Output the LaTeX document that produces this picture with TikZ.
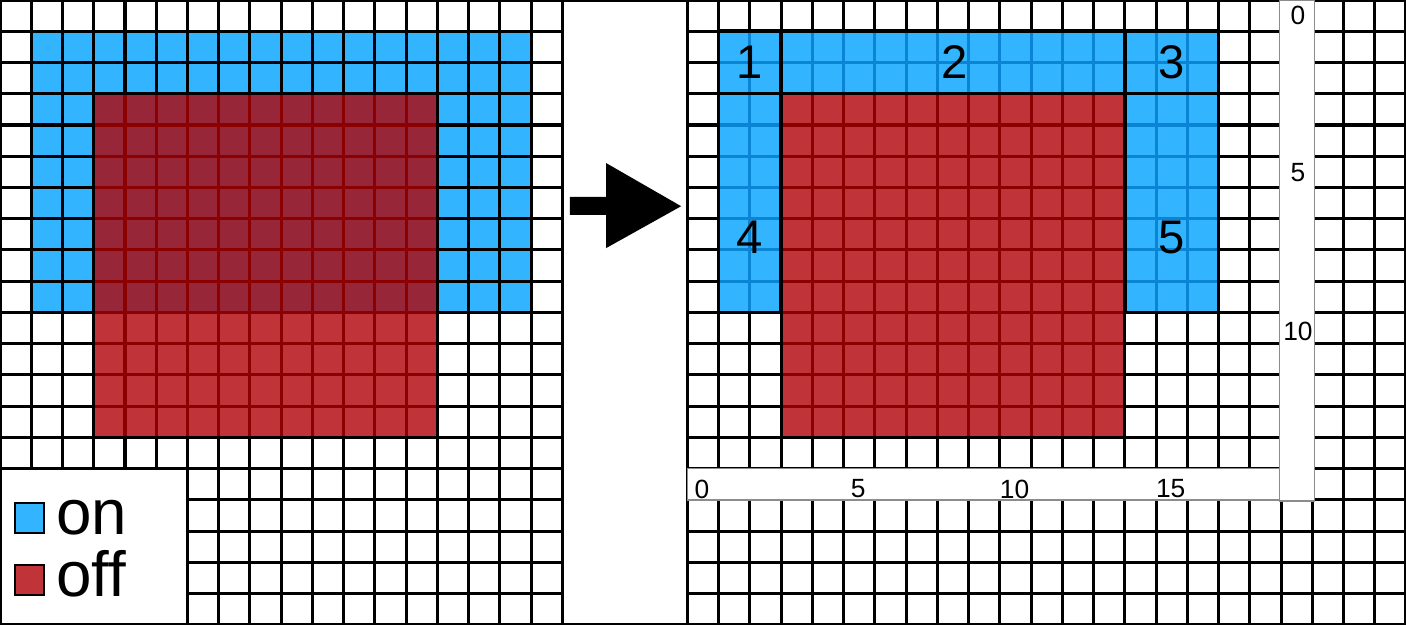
\documentclass[tikz,border=0pt]{standalone}
\usepackage{fontspec}
\setmainfont{Liberation Sans}
\definecolor{onblue}{HTML}{33B4FF}
\definecolor{online}{HTML}{0A84D4}
\definecolor{offred}{HTML}{C03338}
\definecolor{offdark}{HTML}{962638}
\definecolor{offline}{HTML}{8B0000}
\begin{document}
\begin{tikzpicture}[x=0.5cm,y=-0.5cm,
  gridline/.style={black,line width=1.4pt,step=0.5cm},
  redgrid/.style={offline,line width=1.4pt,step=0.5cm},
  bluegrid/.style={online,line width=1.4pt,step=0.5cm},
  regionline/.style={black,line width=1.6pt},
  panelbox/.style={fill=white,draw=black,line width=1.4pt},
  axisbox/.style={fill=white,draw=black!45,line width=0.6pt},
  regionlabel/.style={font=\fontsize{21.5}{22}\selectfont,inner sep=0pt},
  axislabel/.style={font=\fontsize{12}{13}\selectfont,inner sep=0pt},
  legtext/.style={font=\fontsize{29}{30}\selectfont,inner sep=0pt,anchor=base west},
  legsq/.style={draw=black,line width=0.9pt,minimum size=0.47cm,inner sep=0pt}]
\useasboundingbox (0,0) rectangle (45,20);
\fill[white] (0,0) rectangle (45,20);
% blue fills
\fill[onblue] (1,1) rectangle (17,10);
\fill[onblue] (23,1) rectangle (39,3);
\fill[onblue] (23,3) rectangle (25,10);
\fill[onblue] (36,3) rectangle (39,10);
% main grid
\draw[gridline] (0,0) grid (45,20);
% right blue inner lines
\begin{scope}
  \clip (23,1) rectangle (39,3) (23,3) rectangle (25,10) (36,3) rectangle (39,10);
  \draw[bluegrid] (23,1) grid (39,10);
\end{scope}
% left red regions
\fill[offdark] (3,3) rectangle (14,10);
\fill[offred] (3,10) rectangle (14,14);
\begin{scope}
  \clip (3,3) rectangle (14,14);
  \draw[redgrid] (3,3) grid (14,14);
\end{scope}
\draw[gridline] (3,3) rectangle (14,14);
% right red region
\fill[offred] (25,3) rectangle (36,14);
\begin{scope}
  \clip (25,3) rectangle (36,14);
  \draw[redgrid] (25,3) grid (36,14);
\end{scope}
\draw[gridline] (25,3) rectangle (36,14);
% right blue region outlines
\draw[regionline] (23,1) rectangle (25,3);
\draw[regionline] (25,1) rectangle (36,3);
\draw[regionline] (36,1) rectangle (39,3);
\draw[regionline] (23,3) rectangle (25,10);
\draw[regionline] (36,3) rectangle (39,10);
% region labels
\node[regionlabel] (r1) at (24,2) {1};
\node[regionlabel] (r2) at (30.55,2) {2};
\node[regionlabel] (r3) at (37.5,2) {3};
\node[regionlabel] (r4) at (24,7.6) {4};
\node[regionlabel] (r5) at (37.5,7.6) {5};
% middle box with arrow
\draw[panelbox] (18,0) rectangle (22,20);
\fill[black] (18.24,6.3) -- (19.4,6.3) -- (19.4,5.22) -- (21.8,6.6) -- (19.4,7.94) -- (19.4,6.88) -- (18.24,6.88) -- cycle;
% axis boxes
\draw[axisbox] (22,15) rectangle (40.96,16);
\draw[axisbox] (40.96,0) rectangle (42.08,16.03);
\foreach \k in {0,5,10,15} {
  \node[axislabel] (hx\k) at ({22.47+\k},15.65) {\k};
}
\node[axislabel] (vy0) at (41.54,0.5) {0};
\node[axislabel] (vy5) at (41.54,5.53) {5};
\node[axislabel] (vy10) at (41.54,10.6) {10};
% legend
\draw[panelbox] (0,15) rectangle (6,20);
\node[legsq,fill=onblue] (onsq) at (0.945,16.58) {};
\node[legsq,fill=offred] (offsq) at (0.945,18.56) {};
\node[legtext] (ontxt) at (1.78,17.12) {on};
\node[legtext] (offtxt) at (1.78,19.1) {off};
\end{tikzpicture}
\end{document}
